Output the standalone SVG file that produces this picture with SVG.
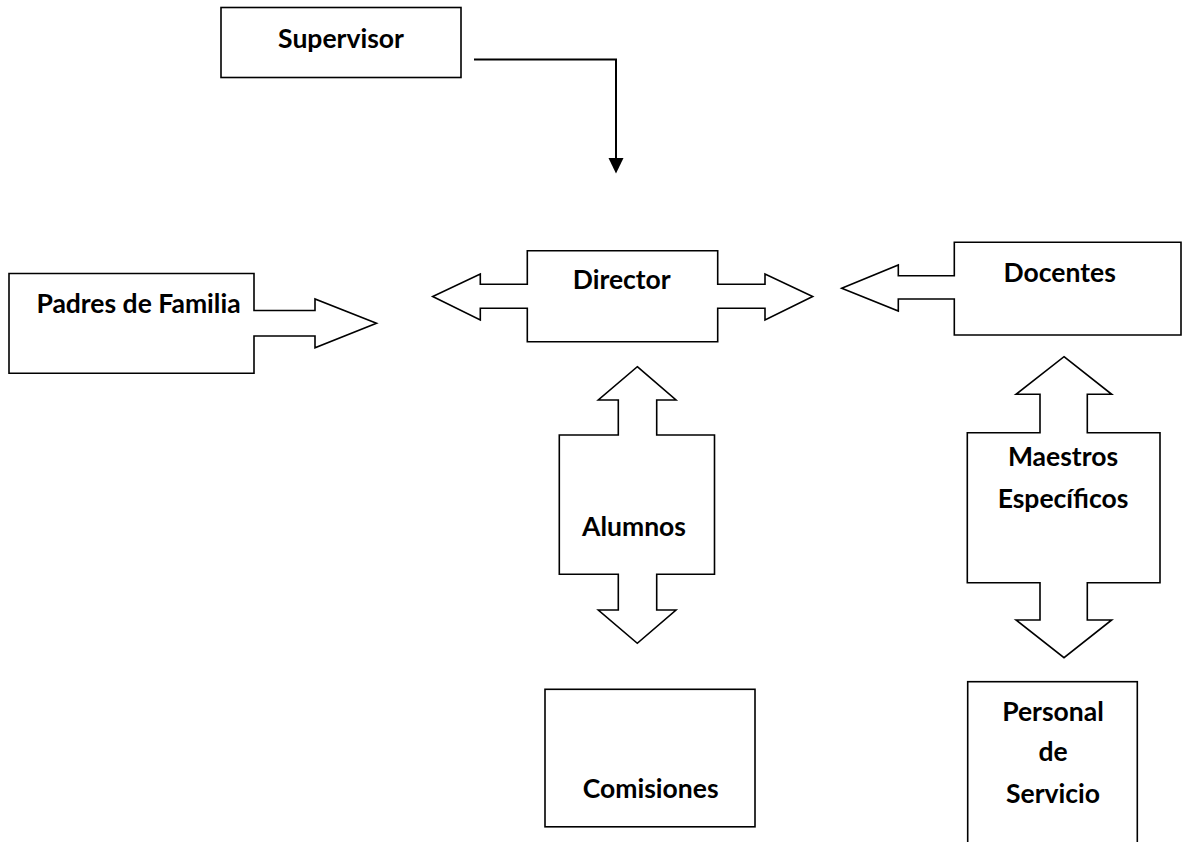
<svg xmlns="http://www.w3.org/2000/svg" width="1184" height="842" viewBox="0 0 1184 842">
<defs>
<style>
.s{fill:#fff;stroke:#000;stroke-width:1.6;stroke-linejoin:miter}
.t{font-family:Lato,"Open Sans","Liberation Sans",sans-serif;font-weight:bold;font-size:26.5px;fill:#000;text-anchor:middle}
.c{fill:none;stroke:#000;stroke-width:2}
</style>
</defs>
<rect width="1184" height="842" fill="#fff"/>
<g id="connectors">
<path class="c" d="M474,59.5 H616 V160"/>
<path d="M608.5,158 L623.5,158 L616,173.5 Z" fill="#000"/>
</g>
<g id="supervisor">
<rect class="s" x="221" y="7.5" width="240" height="70"/>
<text class="t" x="341" y="48">Supervisor</text>
</g>
<g id="padres">
<path class="s" d="M9,273.5 H254 V310.5 H315 V299 L376.5,323.3 L315,347.7 V336 H254 V373.3 H9 Z"/>
<text class="t" x="138.5" y="313">Padres de Familia</text>
</g>
<g id="director">
<path class="s" d="M527.3,250.7 H717.7 V284.3 H765 V274 L812.7,296.5 L765,320 V308.3 H717.7 V341.7 H527.3 V308.3 H480.3 V320 L432.7,296.5 L480.3,274 V284.3 H527.3 Z"/>
<text class="t" x="621.7" y="289">Director</text>
</g>
<g id="docentes">
<path class="s" d="M954.3,242.3 H1181 V335 H954.3 V299 H898.3 V311 L841.7,288.3 L898.3,265 V275.7 H954.3 Z"/>
<text class="t" x="1059.7" y="282">Docentes</text>
</g>
<g id="alumnos">
<path class="s" d="M637.3,366.7 L676,400 H656.7 V435 H714.5 V574.3 H656.7 V610 H676 L637.3,643.3 L598.3,610 H618.3 V574.3 H559.3 V435 H618.3 V400 H598.3 Z"/>
<text class="t" x="634" y="536">Alumnos</text>
</g>
<g id="maestros">
<path class="s" d="M1064,356.7 L1111.7,394.3 H1087.3 V432.7 H1160 V582.7 H1087.3 V620 H1111.7 L1064,657.7 L1016,620 H1040 V582.7 H967.3 V432.7 H1040 V394.3 H1016 Z"/>
<text class="t" x="1063" y="466">Maestros</text>
<text class="t" x="1063" y="508">Específicos</text>
</g>
<g id="comisiones">
<rect class="s" x="545" y="689.3" width="210" height="137.5"/>
<text class="t" x="650.7" y="798">Comisiones</text>
</g>
<g id="personal">
<rect class="s" x="967.7" y="681.7" width="169.6" height="180"/>
<text class="t" x="1053" y="721">Personal</text>
<text class="t" x="1053" y="761">de</text>
<text class="t" x="1053" y="803">Servicio</text>
</g>
</svg>
